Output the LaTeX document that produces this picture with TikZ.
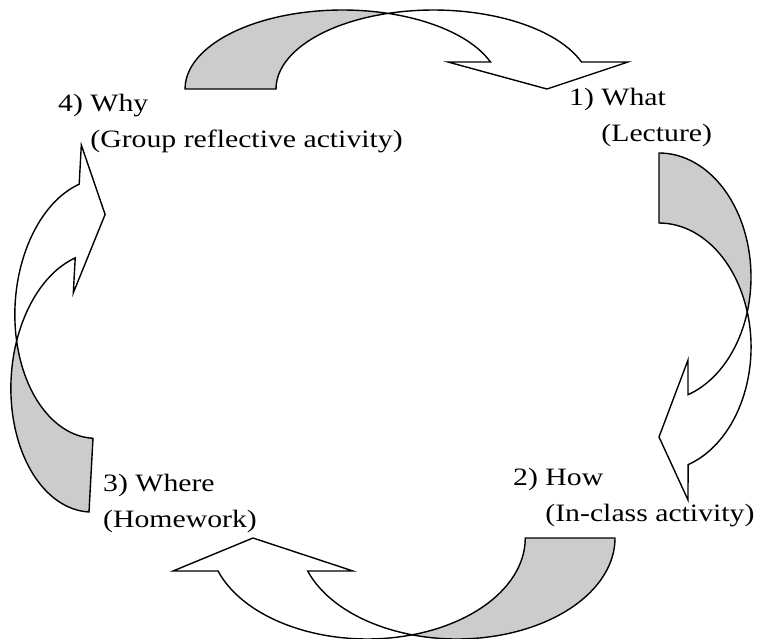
\documentclass[tikz,border=0pt]{standalone}
\usepackage{fontspec}
\setmainfont{Liberation Serif}
\newcommand{\steptext}[2]{\scalebox{1.19}[1]{\begin{tabular}[t]{@{}l@{}}#1\\#2\end{tabular}}}
\tikzset{
  band/.style={draw,line width=1.4pt,line join=miter},
  backside/.style={band,fill=gray!40},
  frontside/.style={band,fill=white},
  steplabel/.style={anchor=base west,inner sep=0pt,font=\fontsize{25}{36}\selectfont}
}
\begin{document}
\begin{tikzpicture}[x=1pt,y=-1pt]
\useasboundingbox (0,0) rectangle (763,638);
% top: why -> what
\draw[backside] (185,89) arc[start angle=180,end angle=286.8,x radius=157.5,y radius=79]
  arc[start angle=253.2,end angle=180,x radius=157.5,y radius=79] -- cycle;
\draw[frontside] (388,13.4) arc[start angle=253.2,end angle=340,x radius=157.5,y radius=79]
  -- (628,62) -- (547,89) -- (448,62) -- (490.5,62)
  arc[start angle=340,end angle=286.8,x radius=157.5,y radius=79] -- cycle;
% right: what -> how
\draw[backside] (659,153) arc[start angle=-90,end angle=16.4,x radius=92,y radius=124]
  arc[start angle=-16.4,end angle=-90,x radius=92,y radius=124] -- cycle;
\draw[frontside] (747.3,312) arc[start angle=-16.4,end angle=71.6,x radius=92,y radius=124]
  -- (688,500) -- (659,437) -- (688,360) -- (688,394.7)
  arc[start angle=71.6,end angle=16.4,x radius=92,y radius=124] -- cycle;
% bottom: how -> where
\draw[backside] (615,538) arc[start angle=0,end angle=106.5,x radius=158,y radius=101]
  arc[start angle=73.5,end angle=0,x radius=158,y radius=101] -- cycle;
\draw[frontside] (412.2,634.8) arc[start angle=73.5,end angle=160.9,x radius=158,y radius=101]
  -- (173,571) -- (253,538) -- (353,571) -- (307.7,571)
  arc[start angle=160.9,end angle=106.5,x radius=158,y radius=101] -- cycle;
% left: where -> why
\begin{scope}[shift={(89,512)},rotate=-3.1]
\draw[backside] (0,0) arc[start angle=90,end angle=196.5,x radius=85,y radius=130]
  arc[start angle=163.5,end angle=90,x radius=85,y radius=130] -- cycle;
\draw[frontside] (-81.5,-166.9) arc[start angle=163.5,end angle=251.1,x radius=85,y radius=130]
  -- (-27.5,-366) -- (0,-298) -- (-27.5,-218) -- (-27.5,-253)
  arc[start angle=251.1,end angle=196.5,x radius=85,y radius=130] -- cycle;
\end{scope}
% labels
\node[steplabel] (what) at (569,105.7) {\steptext{1) What}{\phantom{1) }(Lecture)}};
\node[steplabel] (how) at (513,485) {\steptext{2) How}{\phantom{2) }(In-class activity)}};
\node[steplabel] (where) at (103,491.7) {\steptext{3) Where}{(Homework)}};
\node[steplabel] (why) at (58,111.7) {\steptext{4) Why}{\phantom{4) }(Group reflective activity)}};
\end{tikzpicture}
\end{document}
